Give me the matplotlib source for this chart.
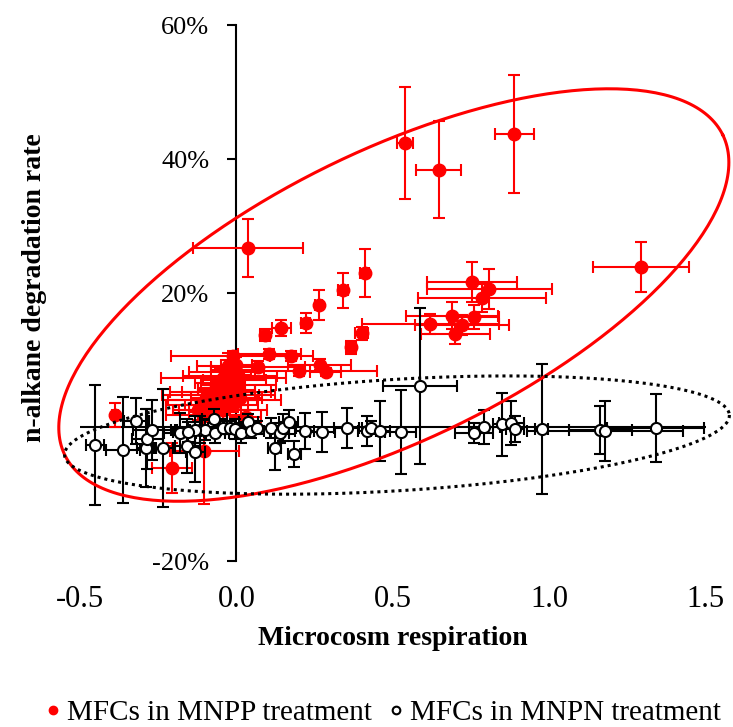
import numpy as np
import matplotlib
matplotlib.use("Agg")
import matplotlib.pyplot as plt
from matplotlib.lines import Line2D
from matplotlib.ticker import FuncFormatter

plt.rcParams['font.family'] = ['Liberation Serif', 'DejaVu Serif']

# MFCs in MNPP treatment (red)
red_x = [0.888, 0.538, 0.647, 1.292, 0.038, 0.41, 0.34, 0.263, 0.221, 0.144,
         0.09, 0.366, 0.40, -0.01, 0.105, 0.176, 0.266, 0.285, 0.2, 0.07,
         0.753, 0.808, 0.785, 0.62, 0.69, 0.76, 0.72, 0.70,
         -0.387, -0.205, -0.103, 0.03,
         -0.122, -0.106, -0.096, -0.083, -0.074, -0.064, -0.058, -0.051, -0.042, -0.032,
         -0.026, -0.019, -0.010, -0.006, 0.0, -0.038, -0.019, 0.0, 0.006, -0.064,
         -0.042, -0.090, -0.010, 0.006, -0.026, -0.051, -0.077, 0.013, -0.106, -0.032]
red_y = [43.7, 42.4, 38.4, 23.9, 26.7, 23.0, 20.4, 18.2, 15.5, 14.8,
         13.7, 11.9, 14.0, 10.6, 10.9, 10.6, 9.3, 8.2, 8.4, 9.0,
         21.6, 20.6, 19.3, 15.4, 16.6, 16.4, 15.2, 13.9,
         1.8, -6.1, -3.6, 1.5,
         2.5, 3.3, 4.3, 4.0, 5.2, 5.8, 4.8, 6.6, 7.3, 8.2,
         6.3, 7.6, 8.5, 7.0, 9.3, 4.0, 4.8, 5.2, 6.3, 3.3,
         2.5, 2.2, 3.3, 7.8, 9.1, 5.2, 2.8, 4.3, 1.8, 5.5]
red_xerr = [0.063, 0.026, 0.072, 0.154, 0.176, 0.015, 0.015, 0.012, 0.015, 0.03,
            0.015, 0.015, 0.02, 0.2, 0.1, 0.07, 0.1, 0.05, 0.25, 0.15,
            0.144, 0.2, 0.205, 0.22, 0.147, 0.08, 0.15, 0.11,
            0.01, 0.064, 0.11, 0.05,
            0.08, 0.12, 0.05, 0.15, 0.1, 0.06, 0.18, 0.08, 0.2, 0.12,
            0.05, 0.15, 0.07, 0.1, 0.05, 0.18, 0.09, 0.06, 0.12, 0.1,
            0.14, 0.06, 0.08, 0.04, 0.1, 0.16, 0.05, 0.07, 0.12, 0.09]
red_yerr = [8.8, 8.3, 7.2, 3.7, 4.3, 3.6, 2.6, 2.3, 1.5, 1.2,
            0.9, 1.0, 1.0, 0.8, 0.8, 0.8, 0.8, 0.6, 0.8, 0.8,
            3.0, 3.0, 2.1, 1.5, 2.0, 1.8, 1.5, 1.5,
            1.8, 3.7, 7.9, 1.0,
            1.5, 2.0, 1.2, 1.8, 2.2, 1.0, 1.5, 2.0, 1.2, 1.8,
            2.5, 1.0, 1.5, 2.0, 1.2, 1.5, 2.2, 1.0, 1.8, 1.2,
            2.0, 1.5, 1.0, 1.5, 2.0, 1.2, 1.5, 1.0, 1.8, 2.0]

# MFCs in MNPN treatment (black open)
black_x = [-0.452, -0.362, -0.32, -0.288, -0.285, -0.27, -0.234, -0.18, -0.157, -0.131,
           -0.115, -0.099, -0.07, -0.067, -0.042, -0.019, -0.003, 0.016, 0.038, 0.048,
           0.067, 0.112, 0.122, 0.138, 0.15, 0.167, 0.185, 0.218, 0.275, 0.353,
           0.417, 0.43, 0.46, 0.525, 0.587, 0.76, 0.792, 0.85, 0.878, 0.89,
           0.975, 1.163, 1.177, 1.34, -0.131, -0.154]
black_y = [-2.7, -3.4, 0.9, -3.1, -1.8, -0.4, -3.1, -0.9, -2.8, -3.7,
           -0.4, -0.4, 1.2, -0.9, -0.1, -0.1, -0.3, -0.9, 0.7, -0.6,
           -0.1, -0.1, -3.1, -0.9, -0.1, 0.7, -4.0, -0.6, -0.7, -0.1,
           -0.6, -0.1, -0.6, -0.7, 6.1, -0.9, 0.0, 0.4, 0.6, -0.3,
           -0.3, -0.4, -0.6, -0.1, -0.4, -0.7]
black_xerr = [0.03, 0.055, 0.04, 0.03, 0.05, 0.06, 0.03, 0.05, 0.04, 0.03,
              0.08, 0.05, 0.04, 0.03, 0.05, 0.04, 0.06, 0.04, 0.03, 0.04,
              0.05, 0.04, 0.02, 0.03, 0.04, 0.03, 0.02, 0.03, 0.04, 0.04,
              0.03, 0.03, 0.03, 0.05, 0.117, 0.06, 0.05, 0.03, 0.04, 0.03,
              0.02, 0.1, 0.25, 0.155, 0.06, 0.05]
black_yerr = [8.9, 7.9, 3.5, 5.8, 4.5, 4.5, 8.8, 3.0, 4.0, 4.5,
              2.0, 1.5, 1.5, 1.5, 1.0, 1.0, 1.5, 1.5, 1.2, 1.0,
              1.0, 1.5, 3.3, 1.5, 2.0, 1.8, 1.9, 2.7, 3.0, 3.0,
              2.2, 1.0, 4.5, 6.3, 11.6, 1.5, 2.5, 4.7, 3.3, 2.0,
              9.7, 3.6, 4.5, 5.1, 2.0, 1.5]

# ellipses: centre and two half-axis vectors (x, y%)
red_ell_c = (0.503, 19.7)
red_ell_u = (1.051, 23.9)
red_ell_v = (0.203, -19.4)
blk_ell_c = (0.513, -1.2)
blk_ell_u = (1.062, 3.0)
blk_ell_v = (0.010, -8.3)

fig = plt.figure(figsize=(7.33, 7.27), dpi=100)
ax = fig.add_axes([0.109, 0.2283, 0.854, 0.7373])

ax.errorbar(red_x, red_y, xerr=red_xerr, yerr=red_yerr, fmt='o', color='red',
            ms=9, elinewidth=1.5, capsize=4, capthick=1.5, zorder=3)
ax.errorbar(black_x, black_y, xerr=black_xerr, yerr=black_yerr, fmt='o', color='black',
            mfc='white', mec='black', mew=1.5, ms=8, elinewidth=1.5, capsize=4,
            capthick=1.5, zorder=3.5)

t = np.linspace(0, 2 * np.pi, 300)
ex = red_ell_c[0] + red_ell_u[0] * np.cos(t) + red_ell_v[0] * np.sin(t)
ey = red_ell_c[1] + red_ell_u[1] * np.cos(t) + red_ell_v[1] * np.sin(t)
ax.plot(ex, ey, color='red', lw=2.2, zorder=5, clip_on=False)
bx = blk_ell_c[0] + blk_ell_u[0] * np.cos(t) + blk_ell_v[0] * np.sin(t)
by = blk_ell_c[1] + blk_ell_u[1] * np.cos(t) + blk_ell_v[1] * np.sin(t)
ax.plot(bx, by, color='black', lw=2.2, ls=(0, (1, 1.3)), zorder=5, clip_on=False)

ax.axhline(0, color='black', lw=1.5, zorder=1)

ax.set_xlim(-0.5, 1.5)
ax.set_ylim(-20, 60)
ax.set_xticks([-0.5, 0.0, 0.5, 1.0, 1.5])
ax.set_xticklabels(['-0.5', '0.0', '0.5', '1.0', '1.5'])
ax.set_yticks([-20, 20, 40, 60])
ax.yaxis.set_major_formatter(FuncFormatter(lambda v, p: f"{v:.0f}%"))

for s in ['top', 'right', 'bottom']:
    ax.spines[s].set_visible(False)
ax.spines['left'].set_position(('data', 0))
ax.spines['left'].set_linewidth(1.5)
ax.tick_params(axis='x', length=0, labelsize=22, pad=17.5)
ax.tick_params(axis='y', length=6.5, width=1.5, direction='out', labelsize=19, pad=13)

ax.set_xlabel('Microcosm respiration', fontsize=20, fontweight='bold')
ax.xaxis.set_label_coords(0.5, -0.121)
ax.set_ylabel('n-alkane degradation rate', fontsize=20, fontweight='bold')
ax.yaxis.set_label_coords(-0.053, 0.51)

handles = [Line2D([], [], ls='none', marker='o', color='red', ms=6),
           Line2D([], [], ls='none', marker='o', mfc='white', mec='black', mew=1.5, ms=5.5)]
fig.legend(handles, ['MFCs in MNPP treatment', 'MFCs in MNPN treatment'],
           loc='lower center', bbox_to_anchor=(0.52, -0.035), ncol=2, frameon=False,
           fontsize=21, handletextpad=0.1, columnspacing=0.4, handlelength=0.8)

fig.savefig('out.png', dpi=100)
